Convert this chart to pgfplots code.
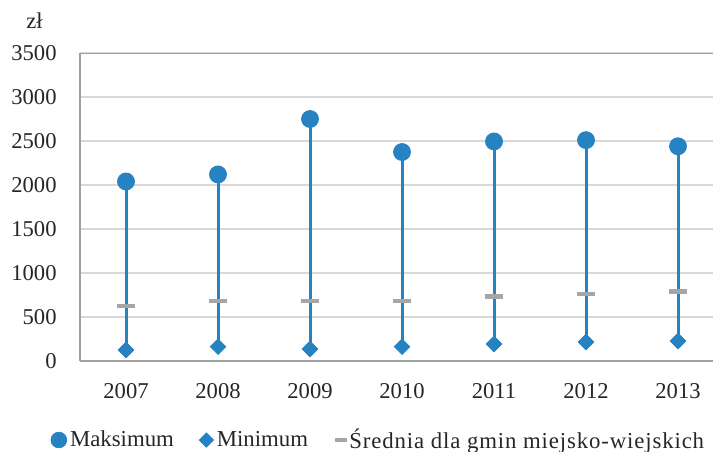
\documentclass[border=0pt]{standalone}
\usepackage{fontspec}
\setmainfont{Liberation Serif}
\usepackage{pgfplots}
\pgfplotsset{compat=1.18}
\definecolor{serblue}{RGB}{38,130,192}
\definecolor{sergray}{RGB}{166,166,166}
\definecolor{gridgray}{RGB}{217,217,217}
\definecolor{framegray}{RGB}{160,160,160}
\definecolor{txt}{RGB}{38,38,38}
\begin{document}
\begin{tikzpicture}
\begin{axis}[
  at={(0,0)}, anchor=south west,
  scale only axis,
  width=316.5pt, height=154pt,
  xmin=-0.5, xmax=6.38,
  ymin=0, ymax=3500,
  xtick={0,1,2,3,4,5,6},
  xticklabels={2007,2008,2009,2010,2011,2012,2013},
  ytick={0,500,1000,1500,2000,2500,3000,3500},
  major tick length=0pt,
  /pgf/number format/assume math mode=true,
  /pgf/number format/1000 sep={},
  font=\fontsize{11.3}{13.5}\selectfont,
  tick label style={font=\fontsize{11.3}{13.5}\selectfont, text=txt},
  xticklabel style={inner sep=0pt, anchor=north, yshift=-11pt},
  yticklabel style={inner sep=0pt, anchor=east, xshift=-11.5pt},
  axis x line*=bottom, axis y line*=left,
  axis line style={-, framegray, line width=1pt},
  ymajorgrids,
  grid style={gridgray, line width=1pt},
  ylabel={zł},
  ylabel style={rotate=-90, at={(axis description cs:-0.0719,1.104)}, anchor=center, inner sep=0pt, text=txt},
  legend columns=3,
  legend style={draw=none, fill=none, inner sep=0pt,
    at={(axis description cs:-0.047,-0.2565)}, anchor=west,
    font=\fontsize{11.4}{13.5}\selectfont, text=txt,
    /tikz/every even column/.append style={column sep=11pt},
    nodes={inner sep=1.5pt}},
]
% high-low lines (min to max)
\addplot[serblue, line width=1.5pt, forget plot] coordinates {(0,125) (0,2040)};
\addplot[serblue, line width=1.5pt, forget plot] coordinates {(1,163) (1,2120)};
\addplot[serblue, line width=1.5pt, forget plot] coordinates {(2,136) (2,2750)};
\addplot[serblue, line width=1.5pt, forget plot] coordinates {(3,163) (3,2375)};
\addplot[serblue, line width=1.5pt, forget plot] coordinates {(4,193) (4,2495)};
\addplot[serblue, line width=1.5pt, forget plot] coordinates {(5,216) (5,2510)};
\addplot[serblue, line width=1.5pt, forget plot] coordinates {(6,227) (6,2440)};
% mean
\addplot[only marks, mark=-, mark size=4.5pt, mark options={sergray, line width=2.2pt}, forget plot]
  coordinates {(0,628) (1,685) (2,685) (3,685) (4,731) (5,761) (6,788)};
% max
\addplot[only marks, mark=*, mark size=4.25pt, mark options={serblue, fill=serblue, draw=serblue},
  legend image code/.code={\fill[serblue] (0,0) circle (3.9pt);}]
  coordinates {(0,2040) (1,2120) (2,2750) (3,2375) (4,2495) (5,2510) (6,2440)};
\addlegendentry{Maksimum}
% min
\addplot[only marks, mark=square*, mark size=2.75pt, mark options={serblue, fill=serblue, draw=serblue, rotate=45},
  legend image code/.code={\fill[serblue, rotate=45] (-2.5pt,-2.5pt) rectangle (2.5pt,2.5pt);}]
  coordinates {(0,125) (1,163) (2,136) (3,163) (4,193) (5,216) (6,227)};
\addlegendentry{Minimum}
% mean legend entry
\addlegendimage{legend image code/.code={\draw[sergray, line width=2.2pt] (-3pt,0) -- (3pt,0);}}
\addlegendentry{\hspace*{-1.5pt}\addfontfeature{LetterSpace=3.8}Średnia dla gmin miejsko-wiejskich}
\draw[framegray, line width=1pt] (rel axis cs:0,1) -- (rel axis cs:1,1);
\end{axis}
\pgfresetboundingbox
\path[use as bounding box] (-40pt,-45pt) rectangle (316.5pt,180.5pt);
\end{tikzpicture}
\end{document}
